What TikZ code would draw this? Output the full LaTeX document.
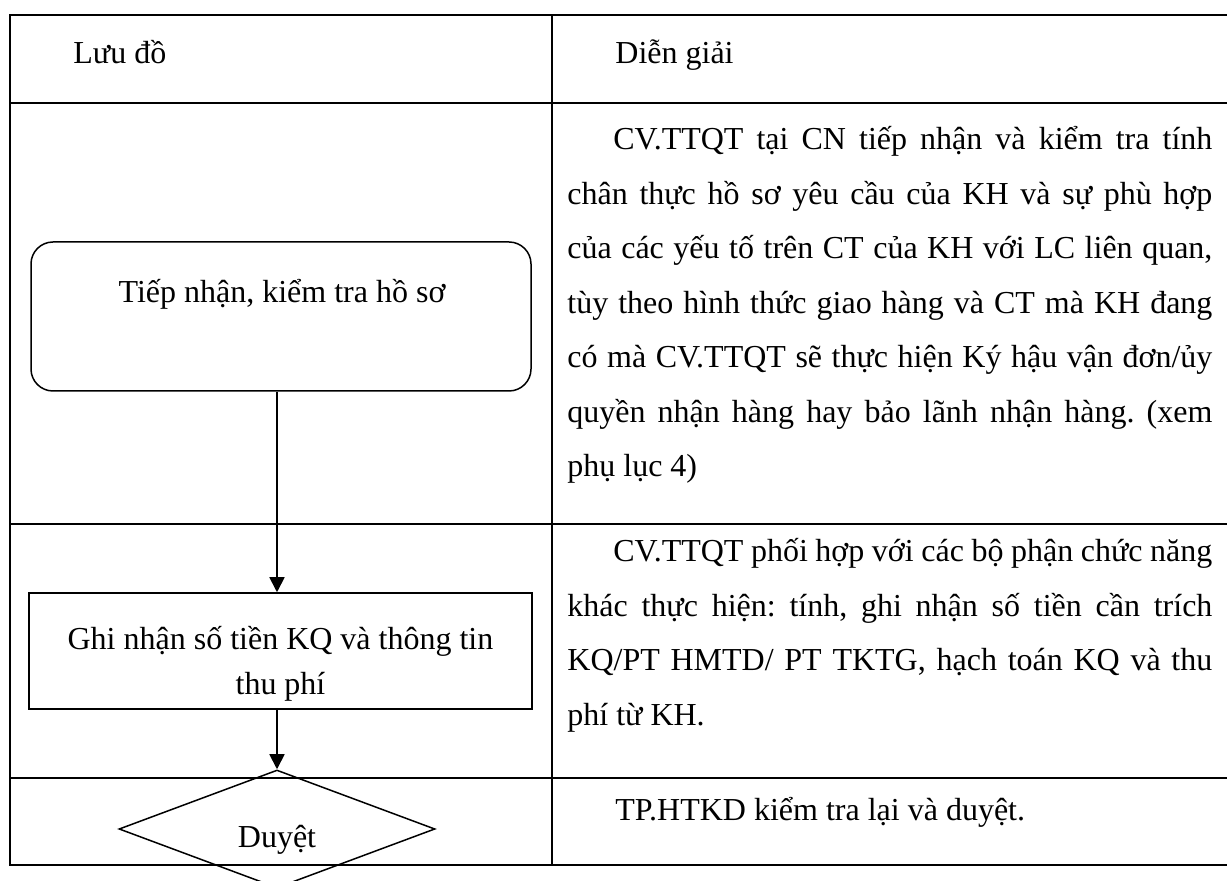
\documentclass[tikz,border=0pt]{standalone}
\usepackage{fontspec}
\setmainfont{Liberation Serif}
\usetikzlibrary{shapes.geometric,arrows.meta}
\frenchspacing

\begin{document}
\begin{tikzpicture}[x=0.5pt,y=-0.5pt,
  every node/.style={inner sep=0pt, font=\fontsize{16pt}{27.25pt}\selectfont},
  gridline/.style={line width=1.1pt},
  startbox/.style={draw, line width=0.75pt, rounded corners=11pt,
                   minimum width=250pt, minimum height=74.5pt},
  procbox/.style={draw, line width=0.75pt, minimum width=251.5pt, minimum height=58pt},
  decision/.style={draw, diamond, line width=0.75pt, minimum width=158pt, minimum height=59pt},
  flow/.style={line width=0.9pt, -{Triangle[length=7.5pt,width=7.5pt]}},
  desc/.style={anchor=base west},
]
\useasboundingbox (0,0) rectangle (1227,881);

% table grid (the right border runs past the page edge)
\draw[gridline] (1240,15) -- (10,15) -- (10,865) -- (1240,865);
\draw[gridline] (552,15) -- (552,865);
\draw[gridline] (10,103) -- (1240,103);
\draw[gridline] (10,524) -- (1240,524);
\draw[gridline] (10,778) -- (1240,778);

% header row
\node[anchor=base west] (hFlow) at (73,64) {Lưu đồ};
\node[anchor=base west] (hDesc) at (615,64) {Diễn giải};

% flowchart shapes
\node[startbox] (tiep) at (281,316.5) {};
\node[anchor=base] (tiepText) at (282,303) {Tiếp nhận, kiểm tra hồ sơ};

\node[procbox] (ghi) at (280.5,651) {};
\node[anchor=base] (ghiText) at (280.5,650)
  {\parbox[t]{250pt}{\centering\fontsize{16pt}{22.5pt}\selectfont
   Ghi nhận số tiền KQ và thông tin\\ thu phí}};

\node[decision] (duyet) at (277,829) {};
\node[anchor=base] (duyetText) at (277,848) {Duyệt};

% connectors
\draw[flow] (tiep.south -| duyet.north) -- (ghi.north -| duyet.north);
\draw[flow] (ghi.south -| duyet.north) -- (duyet.north);

% descriptions
\node[desc] (desc1) at (567,150) {\parbox[t]{322.5pt}{\tolerance=9999\hbadness=10000
  \hspace*{23pt}CV.TTQT tại CN tiếp nhận và kiểm tra tính\linebreak
  chân thực hồ sơ yêu cầu của KH và sự phù hợp\linebreak
  của các yếu tố trên CT của KH với LC liên quan,\linebreak
  tùy theo hình thức giao hàng và CT mà KH đang\linebreak
  có mà CV.TTQT sẽ thực hiện Ký hậu vận đơn/ủy\linebreak
  quyền nhận hàng hay bảo lãnh nhận hàng. (xem\linebreak
  phụ lục 4)}};

\node[desc] (desc2) at (567,562) {\parbox[t]{322.5pt}{\tolerance=9999\hbadness=10000
  \hspace*{23pt}CV.TTQT phối hợp với các bộ phận chức năng\linebreak
  khác thực hiện: tính, ghi nhận số tiền cần trích\linebreak
  KQ/PT HMTD/ PT TKTG, hạch toán KQ và thu\linebreak
  phí từ KH.}};

\node[desc] (desc3) at (615,820) {TP.HTKD kiểm tra lại và duyệt.};
\end{tikzpicture}
\end{document}
